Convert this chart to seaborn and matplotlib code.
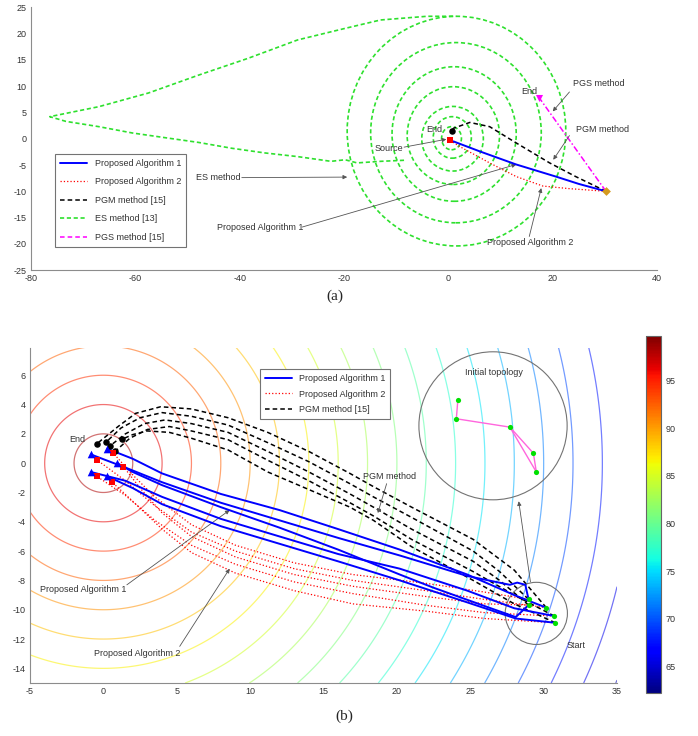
import numpy as np
import pandas as pd
import seaborn as sns
import matplotlib.pyplot as plt
from matplotlib.patches import Ellipse, Circle
from matplotlib.lines import Line2D
from matplotlib.colors import Normalize
from matplotlib.cm import ScalarMappable

# ---------------- panel (a) data ----------------
a_start = [30.2, -10.0]
a_source = [0.3, -0.3]
a_pgm_end = [0.6, 1.5]
a_pgs_end = [17.4, 7.8]

a_alg1_x = [30.2, 25.0, 20.6, 13.0, 6.0, 0.95]
a_alg1_y = [-10.0, -8.6, -7.2, -4.9, -2.4, -0.5]
a_alg2_x = [30.2, 23.2, 18.1, 13.0, 7.9, 2.2, 0.5]
a_alg2_y = [-10.0, -9.5, -9.0, -7.2, -4.6, -1.5, -0.4]
a_pgm_x = [30.2, 24.4, 19.4, 13.0, 7.9, 4.1, 1.0, 0.6]
a_pgm_y = [-10.0, -7.2, -4.6, -0.8, 2.3, 3.1, 2.0, 1.5]
a_pgs_x = [30.2, 17.4]
a_pgs_y = [-10.0, 7.8]

# ES method: long excursion to the left, then circling around the source
a_es_x = [-8.5, -13.0, -17.5, -19.8, -22.5, -28.9, -35.2, -41.6, -47.9, -54.3,
          -60.6, -67.0, -73.3, -76.4, -67.0, -57.5, -47.9, -38.4, -28.9, -19.8,
          -13.0, -4.1, 1.5]
a_es_y = [-4.1, -4.3, -4.6, -4.0, -4.3, -3.4, -2.7, -1.8, -0.7, 0.2,
          1.1, 2.3, 3.3, 4.2, 6.1, 8.7, 12.1, 15.3, 18.8, 21.0,
          22.6, 23.3, 23.3]
es_ring_cx = [0.6, 0.75, 0.8, 0.95, 1.1, 1.45, 1.55]
es_ring_cy = [0.1, 0.25, 0.0, 0.6, 0.9, 1.15, 1.45]
es_ring_rx = [1.9, 3.65, 5.9, 8.85, 11.9, 16.35, 20.95]
es_ring_ry = [2.2, 3.95, 6.15, 9.3, 12.8, 17.15, 21.85]

# ---------------- panel (b) data ----------------
b_start_x = [28.97, 28.97, 30.18, 30.72, 30.79]
b_start_y = [-9.29, -9.68, -9.86, -10.43, -10.89]
b_alg1_end_x = [-0.86, 0.27, 0.95, -0.86, 0.27]
b_alg1_end_y = [0.6, 0.98, 0.0, -0.6, -0.9]
b_alg2_end_x = [-0.45, 0.68, 1.36, -0.45, 0.6]
b_alg2_end_y = [0.23, 0.68, -0.23, -0.9, -1.3]
b_pgm_end_x = [-0.45, 0.18, 0.45, 0.79, 1.29]
b_pgm_end_y = [1.32, 1.43, 1.18, 0.8, 1.64]

b_alg1_x = [
    [28.97, 28.75, 28.2, 27.7, 24.8, 20.2, 16.0, 12.0, 8.0, 4.0, 1.5, -0.86],
    [30.18, 28.0, 24.8, 20.2, 16.0, 12.0, 8.0, 4.0, 2.0, 0.27],
    [28.97, 28.1, 26.4, 22.5, 20.2, 16.0, 12.0, 8.0, 4.0, 2.0, 0.95],
    [30.72, 28.0, 24.8, 20.2, 16.0, 12.0, 8.0, 4.0, 1.5, -0.86],
    [30.79, 28.1, 24.8, 20.2, 16.0, 12.0, 8.0, 4.0, 2.0, 0.27],
]
b_alg1_y = [
    [-9.29, -8.3, -8.15, -8.3, -7.7, -6.3, -5.1, -3.9, -2.7, -1.3, -0.3, 0.6],
    [-9.86, -9.0, -7.6, -5.9, -4.5, -3.2, -2.1, -0.7, 0.3, 0.98],
    [-9.68, -10.5, -9.9, -8.5, -7.6, -5.9, -4.4, -3.0, -1.5, -0.6, 0.0],
    [-10.43, -9.9, -8.7, -7.2, -6.2, -5.0, -3.8, -2.3, -1.2, -0.6],
    [-10.89, -10.6, -9.5, -8.0, -6.7, -5.5, -4.3, -2.8, -1.7, -0.9],
]
b_alg2_x = [
    [28.97, 26, 22, 17, 13, 9, 6, 3.5, 2, 0.68],
    [30.18, 26, 22, 17, 13, 9, 6, 3.5, 1.5, -0.45],
    [28.97, 26, 22, 17, 13, 9, 6, 4, 2.5, 1.36],
    [30.72, 26, 22, 17, 13, 9, 6, 3.5, 1.5, -0.45],
    [30.79, 26, 22, 17, 13, 9, 6, 4, 2, 0.6],
]
b_alg2_y = [
    [-9.29, -8.8, -8.2, -7.6, -6.8, -5.6, -4.2, -2.3, -0.8, 0.68],
    [-9.86, -9.3, -8.7, -8.0, -7.2, -6.0, -4.7, -2.9, -1.2, 0.23],
    [-9.68, -9.6, -9.1, -8.4, -7.6, -6.4, -5.0, -3.4, -1.7, -0.23],
    [-10.43, -10.2, -9.7, -8.9, -8.1, -6.9, -5.6, -3.9, -2.2, -0.9],
    [-10.89, -10.6, -10.1, -9.6, -8.7, -7.5, -6.1, -4.5, -2.6, -1.3],
]
b_pgm_x = [
    [30.18, 28, 25.2, 21, 18.4, 16.8, 14, 11.2, 8.5, 6, 3.9, 2.2, 1.0, -0.45],
    [28.97, 27, 25.2, 21, 18.4, 16.8, 14, 11.2, 8.5, 6, 4.0, 2.5, 1.2, 0.18],
    [28.97, 27, 25.2, 21, 18.4, 16.8, 14, 11.2, 8.5, 6, 4.2, 2.8, 1.5, 0.45],
    [30.72, 28, 25.2, 21, 18.4, 16.8, 14, 11.2, 8.5, 6, 4.5, 3.0, 1.8, 0.79],
    [30.79, 28, 25.2, 21, 18.4, 16.8, 14, 11.2, 8.5, 6, 4.5, 3.0, 2.0, 1.29],
]
b_pgm_y = [
    [-9.86, -7.3, -5.2, -3.0, -1.6, -0.7, 0.8, 2.1, 3.1, 3.7, 3.85, 3.4, 2.5, 1.32],
    [-9.29, -7.4, -6.0, -3.7, -2.3, -1.4, 0.1, 1.4, 2.6, 3.2, 3.45, 3.1, 2.4, 1.43],
    [-9.68, -8.0, -6.7, -4.5, -3.0, -2.1, -0.6, 0.8, 2.1, 2.7, 2.95, 2.7, 2.0, 1.18],
    [-10.43, -9.0, -7.4, -5.2, -3.6, -2.7, -1.2, 0.2, 1.6, 2.2, 2.5, 2.3, 1.7, 0.8],
    [-10.89, -9.6, -8.0, -5.7, -3.9, -3.0, -1.8, -0.6, 0.9, 1.7, 2.1, 2.2, 1.95, 1.64],
]

# magnified initial formation (inset) and its links
topo_x = [24.15, 24.05, 27.7, 29.3, 29.5]
topo_y = [4.28, 3.03, 2.46, 0.68, -0.6]
topo_links = [(0, 1), (1, 2), (2, 3), (2, 4), (3, 4)]

# signal field contours around the source
b_source = [0.0, 0.0]
contour_radii = [2, 4, 6, 8, 10, 12, 14, 16, 18, 20, 22, 24, 26, 28, 30, 32, 34, 36, 38]
contour_values = [98.1, 96.2, 94.3, 92.4, 90.5, 88.6, 86.7, 84.8, 82.9, 81.0,
                  79.1, 77.2, 75.3, 73.4, 71.5, 69.6, 67.7, 65.8, 63.9]
cbar_min, cbar_max = 62.2, 99.7
cbar_ticks = [65, 70, 75, 80, 85, 90, 95]

# ---------------- styling ----------------
sns.set_style("white")
plt.rcParams['font.family'] = ['Liberation Sans', 'DejaVu Sans']
plt.rcParams['axes.unicode_minus'] = False

GREEN = '#2ee02e'
TXT = '#333333'
ARROW = '#555555'
FS = 6.5


def draw_paths(ax, xs_list, ys_list, color, ls, lw, zorder=3):
    rows = []
    for k, (xs, ys) in enumerate(zip(xs_list, ys_list)):
        for i, (x, y) in enumerate(zip(xs, ys)):
            rows.append((k, i, x, y))
    df = pd.DataFrame(rows, columns=['path', 'step', 'x', 'y'])
    sns.lineplot(data=df, x='x', y='y', units='path', estimator=None, sort=False,
                 color=color, linestyle=ls, lw=lw, ax=ax, legend=False, zorder=zorder)


def arrow(ax, tail, head):
    ax.annotate('', xy=head, xytext=tail,
                arrowprops=dict(arrowstyle='-|>', color=ARROW, lw=0.6,
                                mutation_scale=6, shrinkA=0, shrinkB=0))


def label(ax, x, y, s, ha='left'):
    ax.text(x, y, s, fontsize=FS, color=TXT, ha=ha, va='center')


def style_axes(ax):
    sns.despine(ax=ax)
    for sp in ['left', 'bottom']:
        ax.spines[sp].set_color('0.55')
        ax.spines[sp].set_linewidth(0.8)
    ax.tick_params(direction='in', length=3, width=0.6, color='0.45',
                   labelsize=FS, labelcolor=TXT, pad=3)
    ax.set_xlabel('')
    ax.set_ylabel('')


fig = plt.figure(figsize=(6.98, 7.36), dpi=100)

# ================= panel (a) =================
ax1 = fig.add_axes([0.0444, 0.633, 0.897, 0.357])

for cx, cy, rx, ry in zip(es_ring_cx, es_ring_cy, es_ring_rx, es_ring_ry):
    ax1.add_patch(Ellipse((cx, cy), 2 * rx, 2 * ry, fill=False, ec=GREEN,
                          ls=(0, (2.5, 1.6)), lw=1.2, zorder=2))
draw_paths(ax1, [a_es_x], [a_es_y], GREEN, (0, (2.5, 1.6)), 1.2, zorder=2)
draw_paths(ax1, [a_alg2_x], [a_alg2_y], 'red', ':', 0.9)
draw_paths(ax1, [a_pgm_x], [a_pgm_y], 'black', (0, (3, 2)), 1.1)
draw_paths(ax1, [a_pgs_x], [a_pgs_y], 'magenta', (0, (4, 1.5, 1, 1.5)), 1.1)
draw_paths(ax1, [a_alg1_x], [a_alg1_y], 'blue', '-', 1.4, zorder=4)

sns.scatterplot(x=[a_source[0]], y=[a_source[1]], marker='s', color='red', s=18,
                linewidth=0, ax=ax1, zorder=6)
sns.scatterplot(x=[a_pgm_end[0]], y=[a_pgm_end[1]], marker='o', color='black', s=22,
                linewidth=0, ax=ax1, zorder=6)
sns.scatterplot(x=[a_pgs_end[0]], y=[a_pgs_end[1]], marker='v', color='magenta', s=26,
                linewidth=0, ax=ax1, zorder=6)
sns.scatterplot(x=[a_start[0]], y=[a_start[1]], marker='D', color='#d49a20', s=20,
                linewidth=0, ax=ax1, zorder=6)

label(ax1, 15.5, 9.0, 'End', ha='center')
label(ax1, 23.9, 10.6, 'PGS method')
arrow(ax1, (23.2, 8.9), (20.0, 5.2))
label(ax1, 24.4, 1.7, 'PGM method')
arrow(ax1, (23.2, 0.6), (20.1, -4.0))
label(ax1, -2.7, 1.7, 'End', ha='center')
label(ax1, -14.2, -1.95, 'Source')
arrow(ax1, (-8.5, -1.6), (-0.4, -0.1))
label(ax1, -48.3, -7.4, 'ES method')
arrow(ax1, (-39.6, -7.4), (-19.4, -7.3))
label(ax1, -44.4, -16.9, 'Proposed Algorithm 1')
arrow(ax1, (-28.0, -16.8), (13.0, -4.9))
label(ax1, 15.7, -19.7, 'Proposed Algorithm 2', ha='center')
arrow(ax1, (15.5, -18.6), (17.8, -9.4))

ax1.set_xlim(-80, 40)
ax1.set_ylim(-25, 25)
ax1.set_xticks([-80, -60, -40, -20, 0, 20, 40])
ax1.set_yticks([-25, -20, -15, -10, -5, 0, 5, 10, 15, 20, 25])
style_axes(ax1)

h1 = [Line2D([], [], color='blue', lw=1.4),
      Line2D([], [], color='red', ls=':', lw=0.9),
      Line2D([], [], color='black', ls=(0, (3, 2)), lw=1.1),
      Line2D([], [], color=GREEN, ls=(0, (2.5, 1.6)), lw=1.2),
      Line2D([], [], color='magenta', ls=(0, (3, 2)), lw=1.1)]
l1 = ['Proposed Algorithm 1', 'Proposed Algorithm 2', 'PGM method [15]',
      'ES method [13]', 'PGS method [15]']
leg1 = ax1.legend(h1, l1, loc='lower left', bbox_to_anchor=(0.038, 0.087),
                  fontsize=FS, frameon=True, fancybox=False, framealpha=1,
                  edgecolor='0.45', labelspacing=1.05, handlelength=3.0,
                  borderpad=0.6, borderaxespad=0)
leg1.get_frame().set_linewidth(0.8)
for t in leg1.get_texts():
    t.set_color(TXT)

fig.text(0.48, 0.598, '(a)', fontsize=11, family='Liberation Serif', ha='center', va='center')

# ================= panel (b) =================
ax2 = fig.add_axes([0.043, 0.072, 0.841, 0.455])

norm = Normalize(cbar_min, cbar_max)
cmap = plt.get_cmap('jet')
gx, gy = np.meshgrid(np.linspace(-5, 35, 500), np.linspace(-15, 8, 300))
dist = np.hypot(gx - b_source[0], gy - b_source[1])
ax2.contour(gx, gy, dist, levels=contour_radii,
            colors=[cmap(norm(v)) for v in contour_values],
            linewidths=0.9, alpha=0.55, zorder=1)

draw_paths(ax2, b_alg2_x, b_alg2_y, 'red', ':', 0.9)
draw_paths(ax2, b_pgm_x, b_pgm_y, 'black', (0, (3, 2)), 1.1)
draw_paths(ax2, b_alg1_x, b_alg1_y, 'blue', '-', 1.4, zorder=4)

ax2.add_patch(Circle((26.55, 2.55), 5.05, fill=False, ec='0.45', lw=0.8, zorder=3))
ax2.add_patch(Circle((29.5, -10.25), 2.12, fill=False, ec='0.45', lw=0.8, zorder=3))
for i, j in topo_links:
    ax2.plot([topo_x[i], topo_x[j]], [topo_y[i], topo_y[j]], color='#ff66dd', lw=1.0, zorder=4)
sns.scatterplot(x=topo_x, y=topo_y, color='#00e000', s=14, linewidth=0, ax=ax2, zorder=5)

sns.scatterplot(x=b_start_x, y=b_start_y, color='#00e000', s=14, linewidth=0, ax=ax2, zorder=6)
sns.scatterplot(x=b_pgm_end_x, y=b_pgm_end_y, marker='o', color='black', s=22,
                linewidth=0, ax=ax2, zorder=6)
sns.scatterplot(x=b_alg2_end_x, y=b_alg2_end_y, marker='s', color='red', s=14,
                linewidth=0, ax=ax2, zorder=6)
sns.scatterplot(x=b_alg1_end_x, y=b_alg1_end_y, marker='^', color='blue', s=30,
                linewidth=0, ax=ax2, zorder=7)

label(ax2, -1.8, 1.6, 'End', ha='center')
label(ax2, 19.5, -0.9, 'PGM method', ha='center')
arrow(ax2, (19.3, -1.4), (18.7, -3.4))
label(ax2, -1.4, -8.6, 'Proposed Algorithm 1', ha='center')
arrow(ax2, (1.6, -8.3), (8.6, -3.2))
label(ax2, 2.3, -12.96, 'Proposed Algorithm 2', ha='center')
arrow(ax2, (5.2, -12.5), (8.6, -7.2))
label(ax2, 26.6, 6.2, 'Initial topology', ha='center')
label(ax2, 32.2, -12.45, 'Start', ha='center')
arrow(ax2, (29.1, -8.1), (28.3, -2.6))

ax2.set_xlim(-5, 35)
ax2.set_ylim(-15, 7.85)
ax2.set_xticks([-5, 0, 5, 10, 15, 20, 25, 30, 35])
ax2.set_yticks([-14, -12, -10, -8, -6, -4, -2, 0, 2, 4, 6])
style_axes(ax2)

h2 = [Line2D([], [], color='blue', lw=1.4),
      Line2D([], [], color='red', ls=':', lw=0.9),
      Line2D([], [], color='black', ls=(0, (3, 2)), lw=1.1)]
l2 = ['Proposed Algorithm 1', 'Proposed Algorithm 2', 'PGM method [15]']
leg2 = ax2.legend(h2, l2, loc='upper left', bbox_to_anchor=(0.392, 0.937),
                  fontsize=FS, frameon=True, fancybox=False, framealpha=1,
                  edgecolor='0.45', labelspacing=0.75, handlelength=3.0,
                  borderpad=0.5, borderaxespad=0)
leg2.get_frame().set_linewidth(0.8)
for t in leg2.get_texts():
    t.set_color(TXT)

cax = fig.add_axes([0.9255, 0.0584, 0.0215, 0.485])
sm = ScalarMappable(norm=norm, cmap=cmap)
cb = fig.colorbar(sm, cax=cax)
cb.set_ticks(cbar_ticks)
cb.ax.tick_params(labelsize=FS, labelcolor=TXT, direction='in', length=3, width=0.6, color='0.3')
cb.outline.set_edgecolor('0.4')
cb.outline.set_linewidth(0.8)

fig.text(0.493, 0.027, '(b)', fontsize=11, family='Liberation Serif', ha='center', va='center')

fig.savefig('out.png', dpi=100)
